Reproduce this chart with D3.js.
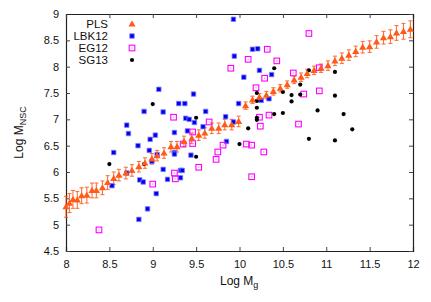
<!DOCTYPE html>
<html>
<head>
<meta charset="utf-8">
<script src="https://cdn.jsdelivr.net/npm/d3@7"></script>
<style>
  body { margin: 0; background: #fff; }
  text { font-family: "Liberation Sans", Arial, sans-serif; }
</style>
</head>
<body>
<div id="container"></div>
<script>
// PLS fit (with error bars)
const plsX = [8.00,8.04,8.08,8.13,8.18,8.24,8.30,8.35,8.42,8.48,8.55,8.61,8.69,8.76,8.84,8.91,8.99,9.05,9.13,9.21,9.28,9.36,9.45,9.53,9.60,9.68,9.76,9.83,9.91,9.99,10.07,10.15,10.23,10.31,10.39,10.47,10.55,10.63,10.71,10.78,10.86,10.94,11.02,11.10,11.18,11.26,11.34,11.42,11.50,11.58,11.66,11.74,11.81,11.89,11.97]
const plsY = [5.34,5.41,5.48,5.47,5.55,5.56,5.65,5.65,5.70,5.80,5.88,5.94,5.98,6.03,6.10,6.17,6.25,6.31,6.36,6.48,6.48,6.58,6.64,6.70,6.74,6.83,6.83,6.90,6.90,6.96,7.26,7.37,7.42,7.46,7.53,7.59,7.66,7.75,7.80,7.87,7.93,7.97,8.02,8.11,8.16,8.22,8.29,8.37,8.38,8.47,8.55,8.57,8.64,8.67,8.71]
const plsErr = [0.20,0.18,0.17,0.16,0.15,0.15,0.14,0.14,0.13,0.13,0.12,0.11,0.11,0.11,0.10,0.10,0.10,0.10,0.10,0.10,0.10,0.10,0.10,0.10,0.10,0.10,0.10,0.10,0.10,0.10,0.07,0.07,0.07,0.07,0.07,0.07,0.07,0.07,0.08,0.08,0.08,0.08,0.09,0.09,0.10,0.10,0.10,0.11,0.11,0.12,0.12,0.13,0.14,0.15,0.16]

// LBK12
const lbkX = [8.53,8.55,8.70,8.70,8.72,8.83,8.84,8.85,8.89,8.90,8.94,8.96,8.97,8.99,9.03,9.04,9.05,9.07,9.12,9.12,9.17,9.25,9.25,9.25,9.30,9.32,9.34,9.32,9.37,9.38,9.42,9.40,9.44,9.47,9.48,9.58,9.61,9.84,9.85,9.93,9.93,9.94,9.99,10.05,10.15,10.21,10.23,10.25,10.34,10.37]
const lbkY = [5.74,6.37,5.98,6.89,6.73,6.50,5.10,5.85,5.81,7.15,5.30,6.41,6.62,6.20,6.70,5.59,6.33,7.57,7.14,6.05,5.86,6.75,6.37,6.34,7.30,6.03,6.03,5.89,7.30,7.02,7.00,6.78,6.32,7.48,6.94,6.86,7.15,7.05,6.58,6.95,8.90,8.20,7.30,7.80,8.33,8.34,7.93,7.36,7.39,7.85]

// EG12
const egX = [8.38,9.00,9.24,9.25,9.26,9.35,9.46,9.46,9.53,9.65,9.73,9.75,9.81,9.90,10.08,10.10,10.14,10.14,10.19,10.23,10.24,10.28,10.29,10.32,10.34,10.43,10.62,10.68,10.74,10.80,10.92,10.92]
const egY = [4.90,5.77,7.04,5.98,5.87,6.53,6.76,6.54,6.09,6.95,6.24,6.38,6.51,7.97,6.53,8.14,6.51,5.91,7.60,7.04,6.87,6.38,7.78,8.33,7.08,8.11,7.88,6.91,7.48,8.63,7.98,7.54]

// SG13
const sgX = [8.50,8.90,9.00,9.50,9.50,10.00,10.10,10.20,10.20,10.20,10.20,10.20,10.40,10.40,10.50,10.50,10.60,10.60,10.70,10.70,10.80,10.80,10.90,11.10,11.10,11.10,11.20,11.30]
const sgY = [6.15,6.15,7.29,7.03,6.29,6.53,6.83,7.50,7.35,7.22,7.03,6.99,7.97,7.10,7.52,7.12,7.46,7.34,7.66,7.47,7.93,6.63,7.17,7.90,7.45,6.60,7.10,6.81]

const xTicks = [8, 8.5, 9, 9.5, 10, 10.5, 11, 11.5, 12]
const yTicks = [4.5, 5, 5.5, 6, 6.5, 7, 7.5, 8, 8.5, 9]
const legendNames = ["PLS", "LBK12", "EG12", "SG13"]

const width = 431, height = 302
const margin = { left: 66, right: 18, top: 14, bottom: 51 }
const orange = "#ff5a1a"

const svg = d3.select("#container").append("svg")
    .attr("width", width).attr("height", height)

const x = d3.scaleLinear().domain([8, 12]).range([margin.left, width - margin.right])
const y = d3.scaleLinear().domain([4.5, 9]).range([height - margin.bottom, margin.top])

const fmt = d => String(d)

// axes, gnuplot style: inward ticks on all four sides
const axB = svg.append("g").attr("transform", `translate(0,${y(4.5)})`)
    .call(d3.axisBottom(x).tickValues(xTicks).tickFormat(fmt).tickSize(-4).tickPadding(9))
const axL = svg.append("g").attr("transform", `translate(${x(8)},0)`)
    .call(d3.axisLeft(y).tickValues(yTicks).tickFormat(fmt).tickSize(-4).tickPadding(7))
const axT = svg.append("g").attr("transform", `translate(0,${y(9)})`)
    .call(d3.axisTop(x).tickValues(xTicks).tickFormat("").tickSize(-4))
const axR = svg.append("g").attr("transform", `translate(${x(12)},0)`)
    .call(d3.axisRight(y).tickValues(yTicks).tickFormat("").tickSize(-4))

;[axB, axL, axT, axR].forEach(g => {
    g.selectAll(".domain").attr("stroke", "#222").attr("stroke-width", 1.2)
    g.selectAll(".tick line").attr("stroke", "#444")
    g.selectAll("text").attr("font-size", 11).attr("fill", "#111")
        .attr("font-family", "'Liberation Sans', Arial, sans-serif")
})

// PLS error bars
const pls = plsX.map((d, i) => ({ x: d, y: plsY[i], e: plsErr[i] }))
const eb = svg.append("g").attr("stroke", orange).attr("stroke-width", 1.1).attr("opacity", 0.85)
pls.forEach(d => {
    const x0 = x(d.x), y0 = y(d.y - d.e), y1 = y(d.y + d.e)
    eb.append("line").attr("x1", x0).attr("x2", x0).attr("y1", y0).attr("y2", y1)
    eb.append("line").attr("x1", x0 - 2).attr("x2", x0 + 2).attr("y1", y0).attr("y2", y0)
    eb.append("line").attr("x1", x0 - 2).attr("x2", x0 + 2).attr("y1", y1).attr("y2", y1)
})

const tri = d3.symbol().type(d3.symbolTriangle).size(22)
const sq = d3.symbol().type(d3.symbolSquare)

// LBK12 filled blue squares
svg.append("g").selectAll("path").data(lbkX.map((d, i) => [d, lbkY[i]])).join("path")
    .attr("transform", d => `translate(${x(d[0])},${y(d[1])})`)
    .attr("d", sq.size(20)())
    .attr("fill", "#0000ee").attr("stroke", "#7f7fff").attr("stroke-width", 0.8)

// EG12 open magenta squares with a centre dot
const eg = svg.append("g").selectAll("g").data(egX.map((d, i) => [d, egY[i]])).join("g")
    .attr("transform", d => `translate(${x(d[0])},${y(d[1])})`)
eg.append("rect").attr("x", -2.8).attr("y", -2.8).attr("width", 5.6).attr("height", 5.6)
    .attr("fill", "none").attr("stroke", "#ff00ff").attr("stroke-width", 1.1)
eg.append("rect").attr("x", -0.6).attr("y", -0.6).attr("width", 1.2).attr("height", 1.2)
    .attr("fill", "#ff80ff")

// SG13 black dots
svg.append("g").selectAll("circle").data(sgX.map((d, i) => [d, sgY[i]])).join("circle")
    .attr("cx", d => x(d[0])).attr("cy", d => y(d[1])).attr("r", 2.1).attr("fill", "#000")

// PLS triangles on top
svg.append("g").selectAll("path").data(pls).join("path")
    .attr("transform", d => `translate(${x(d.x)},${y(d.y) + 0.5})`)
    .attr("d", tri()).attr("fill", orange)

// legend
const lg = svg.append("g")
legendNames.forEach((name, i) => {
    const ly = 24 + i * 12
    lg.append("text").attr("x", 108).attr("y", ly + 4).attr("text-anchor", "end")
        .attr("font-size", 11.5).attr("fill", "#111").text(name)
    const sx = 132
    if (i === 0) lg.append("path").attr("transform", `translate(${sx},${ly + 0.5})`).attr("d", tri()).attr("fill", orange)
    if (i === 1) lg.append("path").attr("transform", `translate(${sx},${ly})`).attr("d", sq.size(20)())
        .attr("fill", "#0000ee").attr("stroke", "#7f7fff").attr("stroke-width", 0.8)
    if (i === 2) {
        lg.append("rect").attr("x", sx - 2.8).attr("y", ly - 2.8).attr("width", 5.6).attr("height", 5.6)
            .attr("fill", "none").attr("stroke", "#ff00ff").attr("stroke-width", 1.1)
        lg.append("rect").attr("x", sx - 0.6).attr("y", ly - 0.6).attr("width", 1.2).attr("height", 1.2).attr("fill", "#ff80ff")
    }
    if (i === 3) lg.append("circle").attr("cx", sx).attr("cy", ly).attr("r", 2.1).attr("fill", "#000")
})

// axis titles
const xt = svg.append("text").attr("x", 220).attr("y", 285).attr("font-size", 12).attr("fill", "#111")
xt.append("tspan").text("Log M")
xt.append("tspan").attr("dy", 3).attr("font-size", 9).text("g")

const yt = svg.append("text").attr("transform", `translate(23,${(y(4.5) + y(9)) / 2}) rotate(-90)`)
    .attr("text-anchor", "middle").attr("font-size", 12).attr("fill", "#111")
yt.append("tspan").text("Log M")
yt.append("tspan").attr("dy", 3).attr("font-size", 9).text("NSC")
</script>
</body>
</html>
